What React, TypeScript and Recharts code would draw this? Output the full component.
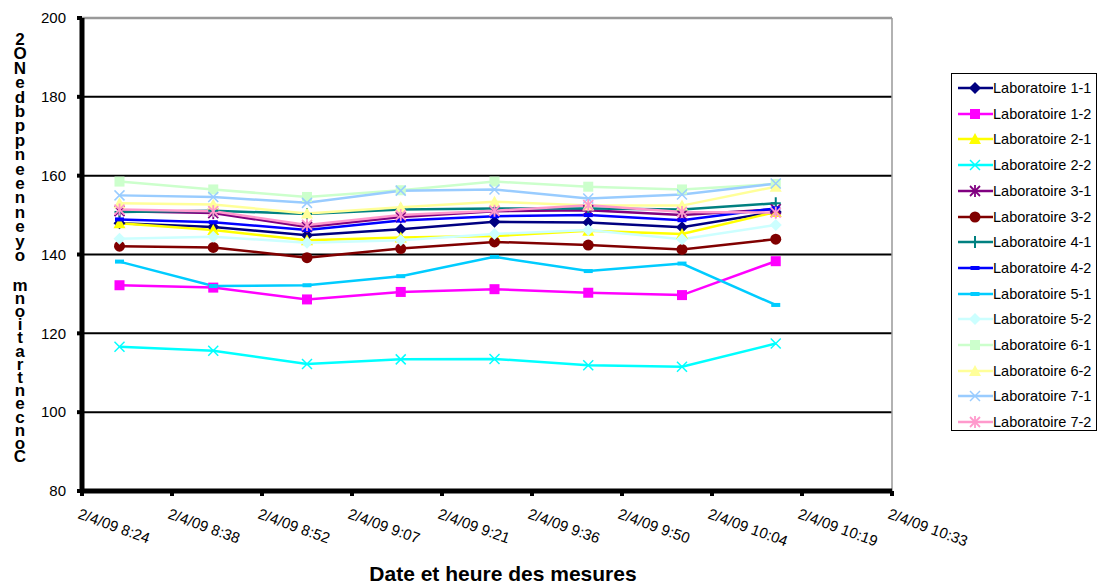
import React from 'react'
import { LineChart, Line, XAxis, YAxis, CartesianGrid, ReferenceLine } from 'recharts'

// sample times (8:30 -> 10:15, every 15 min)
const times = ['8:30', '8:45', '9:00', '9:15', '9:30', '9:45', '10:00', '10:15']

const labNames = [
  'Laboratoire 1-1', 'Laboratoire 1-2', 'Laboratoire 2-1', 'Laboratoire 2-2',
  'Laboratoire 3-1', 'Laboratoire 3-2', 'Laboratoire 4-1', 'Laboratoire 4-2',
  'Laboratoire 5-1', 'Laboratoire 5-2', 'Laboratoire 6-1', 'Laboratoire 6-2',
  'Laboratoire 7-1', 'Laboratoire 7-2'
]

const lab1_1 = [147.9, 147.0, 144.9, 146.4, 148.3, 148.1, 146.9, 150.8]
const lab1_2 = [132.2, 131.6, 128.6, 130.5, 131.2, 130.3, 129.7, 138.3]
const lab2_1 = [147.9, 146.2, 143.6, 144.3, 144.7, 146.0, 145.2, 150.8]
const lab2_2 = [116.6, 115.6, 112.2, 113.4, 113.5, 111.9, 111.5, 117.4]
const lab3_1 = [151.0, 150.5, 147.0, 149.5, 151.0, 151.2, 150.0, 151.5]
const lab3_2 = [142.1, 141.8, 139.2, 141.5, 143.2, 142.4, 141.3, 143.9]
const lab4_1 = [150.8, 151.1, 150.3, 151.4, 151.7, 151.7, 151.4, 153.0]
const lab4_2 = [148.9, 148.2, 146.2, 148.6, 149.7, 150.0, 148.7, 151.7]
const lab5_1 = [138.2, 132.0, 132.2, 134.5, 139.4, 135.8, 137.7, 127.2]
const lab5_2 = [144.0, 144.5, 143.0, 143.6, 145.2, 146.2, 143.9, 147.5]
const lab6_1 = [158.5, 156.5, 154.6, 156.3, 158.5, 157.2, 156.5, 157.9]
const lab6_2 = [153.0, 152.7, 150.4, 152.0, 153.4, 152.4, 152.4, 157.2]
const lab7_1 = [155.0, 154.6, 153.1, 156.2, 156.5, 154.2, 155.2, 158.0]
const lab7_2 = [151.4, 151.0, 147.5, 150.0, 151.1, 152.5, 150.8, 150.6]

const labValues = [
  lab1_1, lab1_2, lab2_1, lab2_2, lab3_1, lab3_2, lab4_1,
  lab4_2, lab5_1, lab5_2, lab6_1, lab6_2, lab7_1, lab7_2
]

// x axis: minutes since midnight, excel-style ticks
const xTickMinutes = [504, 518.4, 532.8, 547.2, 561.6, 576, 590.4, 604.8, 619.2, 633.6]
const xTickLabels = [
  '2/4/09 8:24', '2/4/09 8:38', '2/4/09 8:52', '2/4/09 9:07', '2/4/09 9:21',
  '2/4/09 9:36', '2/4/09 9:50', '2/4/09 10:04', '2/4/09 10:19', '2/4/09 10:33'
]
const yTicks = [80, 100, 120, 140, 160, 180, 200]

const xTitle = 'Date et heure des mesures'
const yTitle = 'Concentration moyenne en ppb de NO2'

const colors = [
  '#000080', '#FF00FF', '#FFFF00', '#00FFFF', '#800080', '#800000', '#008080',
  '#0000FF', '#00CCFF', '#CCFFFF', '#CCFFCC', '#FFFF99', '#99CCFF', '#FF99CC'
]
const markers = [
  'diamond', 'square', 'triangle', 'x', 'star', 'circle', 'plus',
  'dash', 'dash', 'diamond', 'square', 'triangle', 'x', 'star'
]

const FONT = 'Arial, "Liberation Sans", sans-serif'

const toMinutes = (t: string) => {
  const [h, m] = t.split(':').map(Number)
  return h * 60 + m
}

const rows = times.map((t, i) => {
  const row: Record<string, number> = { t: toMinutes(t) }
  labNames.forEach((n, k) => { row[n] = labValues[k][i] })
  return row
})

function Marker({ cx, cy, kind, color }: { cx: number; cy: number; kind: string; color: string }) {
  if (cx == null || cy == null) return null
  switch (kind) {
    case 'diamond':
      return <polygon points={`${cx},${cy - 6} ${cx + 6},${cy} ${cx},${cy + 6} ${cx - 6},${cy}`} fill={color} />
    case 'square':
      return <rect x={cx - 5} y={cy - 5} width={10} height={10} fill={color} />
    case 'triangle':
      return <polygon points={`${cx},${cy - 6} ${cx + 6},${cy + 5} ${cx - 6},${cy + 5}`} fill={color} />
    case 'circle':
      return <circle cx={cx} cy={cy} r={5.5} fill={color} />
    case 'x':
      return (
        <g stroke={color} strokeWidth={1.5}>
          <line x1={cx - 5} y1={cy - 5} x2={cx + 5} y2={cy + 5} />
          <line x1={cx - 5} y1={cy + 5} x2={cx + 5} y2={cy - 5} />
        </g>
      )
    case 'star':
      return (
        <g stroke={color} strokeWidth={1.8}>
          <line x1={cx - 5} y1={cy - 5} x2={cx + 5} y2={cy + 5} />
          <line x1={cx - 5} y1={cy + 5} x2={cx + 5} y2={cy - 5} />
          <line x1={cx} y1={cy - 6} x2={cx} y2={cy + 6} />
        </g>
      )
    case 'plus':
      return (
        <g stroke={color} strokeWidth={2}>
          <line x1={cx - 5} y1={cy} x2={cx + 5} y2={cy} />
          <line x1={cx} y1={cy - 6} x2={cx} y2={cy + 6} />
        </g>
      )
    case 'dash':
      return <rect x={cx - 4.5} y={cy - 2} width={9} height={4} fill={color} />
    default:
      return null
  }
}

function XTick(props: any) {
  const { x, y, payload } = props
  const idx = xTickMinutes.indexOf(payload.value)
  return (
    <g transform={`translate(${x - 5},${y + 20})`}>
      <text transform="rotate(20)" textAnchor="start" fontSize={15} fontFamily={FONT} fill="#000">
        {xTickLabels[idx]}
      </text>
    </g>
  )
}

// Excel "stacked" title, drawn bottom-to-top as in the original
const stacked = yTitle.split('').reverse().join('').replace(/ /g, '')
const mIdx = stacked.indexOf('m')
const stackTop = stacked.slice(0, mIdx)
const stackBottom = stacked.slice(mIdx)

export default function App() {
  return (
    <div style={{ position: 'absolute', left: 0, top: 0, width: 1101, height: 585, background: '#fff', fontFamily: FONT }}>
      <LineChart width={1101} height={585} data={rows} margin={{ top: 18, right: 209, left: 0, bottom: 0 }}>
        <CartesianGrid vertical={false} stroke="#000" strokeWidth={2} />
        <ReferenceLine y={200} stroke="#999" strokeWidth={2.5} />
        <ReferenceLine x={633.6} stroke="#999" strokeWidth={1.5} />
        <XAxis
          type="number"
          dataKey="t"
          domain={[504, 633.6]}
          ticks={xTickMinutes}
          interval={0}
          height={94}
          tickSize={5}
          axisLine={{ stroke: '#000', strokeWidth: 5 }}
          tickLine={{ stroke: '#000', strokeWidth: 4 }}
          tick={<XTick />}
          allowDataOverflow
        />
        <YAxis
          type="number"
          domain={[80, 200]}
          ticks={yTicks}
          interval={0}
          width={82}
          tickSize={5}
          tickMargin={11}
          axisLine={{ stroke: '#000', strokeWidth: 5 }}
          tickLine={{ stroke: '#000', strokeWidth: 4 }}
          tick={{ fill: '#000', fontSize: 15, fontFamily: FONT }}
        />
        {labNames.map((name, k) => (
          <Line
            key={name}
            dataKey={name}
            stroke={colors[k]}
            strokeWidth={2.5}
            isAnimationActive={false}
            dot={(p: any) => <Marker key={`${name}-${p.index}`} cx={p.cx} cy={p.cy} kind={markers[k]} color={colors[k]} />}
            activeDot={false}
          />
        ))}
      </LineChart>

      <svg width={1101} height={585} style={{ position: 'absolute', left: 0, top: 0, pointerEvents: 'none' }}>
        <text
          fontSize={17}
          fontWeight="bold"
          fontFamily={FONT}
          fill="#000"
          style={{ writingMode: 'vertical-rl', textOrientation: 'upright' } as React.CSSProperties}
        >
          <tspan x={20} y={30} style={{ letterSpacing: '-4.6px' }}>{stackTop}</tspan>
          <tspan x={20} y={276} style={{ letterSpacing: '-5.8px' }}>{stackBottom}</tspan>
        </text>
        <text x={503} y={581} textAnchor="middle" fontSize={21} fontWeight="bold" fontFamily={FONT} fill="#000">
          {xTitle}
        </text>
      </svg>

      <div style={{ position: 'absolute', left: 951, top: 73, width: 144, height: 356, border: '1px solid #000', background: '#fff' }}>
        {labNames.map((name, k) => (
          <div key={name} style={{ position: 'absolute', left: 4, top: 4 + k * 25.7, height: 20, display: 'flex', alignItems: 'center' }}>
            <svg width={37} height={20}>
              <line x1={2} y1={10} x2={37} y2={10} stroke={colors[k]} strokeWidth={2.5} />
              <Marker cx={19} cy={10} kind={markers[k]} color={colors[k]} />
            </svg>
            <span style={{ fontSize: 14.5, color: '#000', whiteSpace: 'nowrap' }}>{name}</span>
          </div>
        ))}
      </div>
    </div>
  )
}
